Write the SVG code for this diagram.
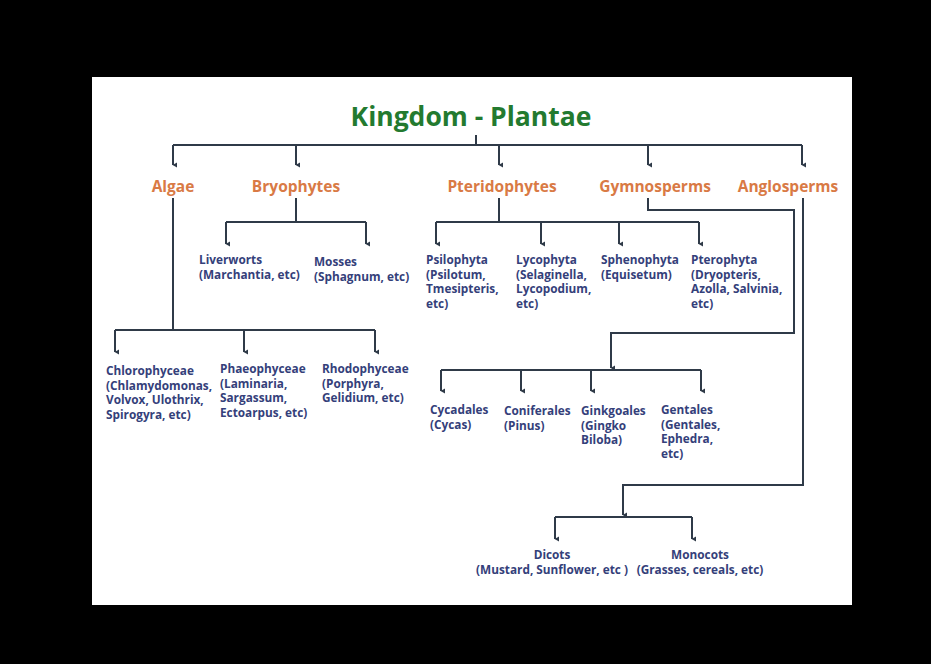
<svg xmlns="http://www.w3.org/2000/svg" width="931" height="664" viewBox="0 0 931 664">
<defs>
<style>
.t{font-family:"Open Sans","Liberation Sans",sans-serif;font-weight:700;}
.title{font-size:26.5px;fill:#237a2f;}
.l1{font-size:15.5px;fill:#d97a45;}
.l2{font-size:11.8px;fill:#34407a;}
.c{fill:none;stroke:#2f3a48;stroke-width:2;}
</style>
<marker id="a" markerWidth="6" markerHeight="6" refX="3" refY="5" orient="auto" markerUnits="userSpaceOnUse" viewBox="0 0 6 6">
<path d="M0.5,1 L3,5.5 L5.5,1 Z" fill="#2f3a48"/>
</marker>
</defs>
<rect x="0" y="0" width="931" height="664" fill="#000"/>
<rect x="92" y="77" width="760" height="528" fill="#fff"/>

<g id="connectors" class="c">
<path d="M476,135 V145"/>
<path d="M173,145 H802"/>
<path d="M173,145 V165" marker-end="url(#a)"/>
<path d="M296,145 V165" marker-end="url(#a)"/>
<path d="M499,145 V165" marker-end="url(#a)"/>
<path d="M648,145 V165" marker-end="url(#a)"/>
<path d="M802,145 V165" marker-end="url(#a)"/>

<path d="M173,198 V330"/>
<path d="M115,330 H375"/>
<path d="M115,330 V352" marker-end="url(#a)"/>
<path d="M244,330 V352" marker-end="url(#a)"/>
<path d="M375,330 V352" marker-end="url(#a)"/>

<path d="M296,198 V222"/>
<path d="M226,222 H366"/>
<path d="M226,222 V244" marker-end="url(#a)"/>
<path d="M366,222 V244" marker-end="url(#a)"/>

<path d="M499,198 V222"/>
<path d="M436,222 H699"/>
<path d="M436,222 V244" marker-end="url(#a)"/>
<path d="M541,222 V244" marker-end="url(#a)"/>
<path d="M619,222 V244" marker-end="url(#a)"/>
<path d="M699,222 V244" marker-end="url(#a)"/>

<path d="M648,198 V210 H794 V333 H611 V368" marker-end="url(#a)"/>
<path d="M441,370 H701"/>
<path d="M441,370 V391" marker-end="url(#a)"/>
<path d="M521,370 V391" marker-end="url(#a)"/>
<path d="M591,370 V391" marker-end="url(#a)"/>
<path d="M701,370 V391" marker-end="url(#a)"/>

<path d="M803,198 V485 H623 V515" marker-end="url(#a)"/>
<path d="M555,517 H692"/>
<path d="M555,517 V539" marker-end="url(#a)"/>
<path d="M692,517 V539" marker-end="url(#a)"/>
</g>

<g id="kingdom"><text class="t title" x="471" y="126" text-anchor="middle">Kingdom - Plantae</text></g>

<g id="algae"><text class="t l1" x="173" y="192" text-anchor="middle">Algae</text></g>
<g id="bryophytes"><text class="t l1" x="296" y="192" text-anchor="middle">Bryophytes</text></g>
<g id="pteridophytes"><text class="t l1" x="502" y="192" text-anchor="middle">Pteridophytes</text></g>
<g id="gymnosperms"><text class="t l1" x="655" y="192" text-anchor="middle">Gymnosperms</text></g>
<g id="angiosperms"><text class="t l1" x="788" y="192" text-anchor="middle">Anglosperms</text></g>

<g id="liverworts"><text class="t l2" x="199" y="264">Liverworts<tspan x="199" dy="14.5">(Marchantia, etc)</tspan></text></g>
<g id="mosses"><text class="t l2" x="314" y="266">Mosses<tspan x="314" dy="14.5">(Sphagnum, etc)</tspan></text></g>

<g id="psilophyta"><text class="t l2" x="426" y="264">Psilophyta<tspan x="426" dy="14.5">(Psilotum,</tspan><tspan x="426" dy="14.5">Tmesipteris,</tspan><tspan x="426" dy="14.5">etc)</tspan></text></g>
<g id="lycophyta"><text class="t l2" x="516" y="264">Lycophyta<tspan x="516" dy="14.5">(Selaginella,</tspan><tspan x="516" dy="14.5">Lycopodium,</tspan><tspan x="516" dy="14.5">etc)</tspan></text></g>
<g id="sphenophyta"><text class="t l2" x="601" y="264">Sphenophyta<tspan x="601" dy="14.5">(Equisetum)</tspan></text></g>
<g id="pterophyta"><text class="t l2" x="691" y="264">Pterophyta<tspan x="691" dy="14.5">(Dryopteris,</tspan><tspan x="691" dy="14.5">Azolla, Salvinia,</tspan><tspan x="691" dy="14.5">etc)</tspan></text></g>

<g id="chlorophyceae"><text class="t l2" x="106" y="375">Chlorophyceae<tspan x="106" dy="14.5">(Chlamydomonas,</tspan><tspan x="106" dy="14.5">Volvox, Ulothrix,</tspan><tspan x="106" dy="14.5">Spirogyra, etc)</tspan></text></g>
<g id="phaeophyceae"><text class="t l2" x="220" y="373">Phaeophyceae<tspan x="220" dy="14.5">(Laminaria,</tspan><tspan x="220" dy="14.5">Sargassum,</tspan><tspan x="220" dy="14.5">Ectoarpus, etc)</tspan></text></g>
<g id="rhodophyceae"><text class="t l2" x="322" y="373">Rhodophyceae<tspan x="322" dy="14.5">(Porphyra,</tspan><tspan x="322" dy="14.5">Gelidium, etc)</tspan></text></g>

<g id="cycadales"><text class="t l2" x="430" y="414">Cycadales<tspan x="430" dy="14.5">(Cycas)</tspan></text></g>
<g id="coniferales"><text class="t l2" x="504" y="415">Coniferales<tspan x="504" dy="14.5">(Pinus)</tspan></text></g>
<g id="ginkgoales"><text class="t l2" x="581" y="415">Ginkgoales<tspan x="581" dy="14.5">(Gingko</tspan><tspan x="581" dy="14.5">Biloba)</tspan></text></g>
<g id="gentales"><text class="t l2" x="661" y="414">Gentales<tspan x="661" dy="14.5">(Gentales,</tspan><tspan x="661" dy="14.5">Ephedra,</tspan><tspan x="661" dy="14.5">etc)</tspan></text></g>

<g id="dicots"><text class="t l2" x="552" y="559" text-anchor="middle">Dicots<tspan x="552" dy="14.5">(Mustard, Sunflower, etc )</tspan></text></g>
<g id="monocots"><text class="t l2" x="700" y="559" text-anchor="middle">Monocots<tspan x="700" dy="14.5">(Grasses, cereals, etc)</tspan></text></g>
</svg>
